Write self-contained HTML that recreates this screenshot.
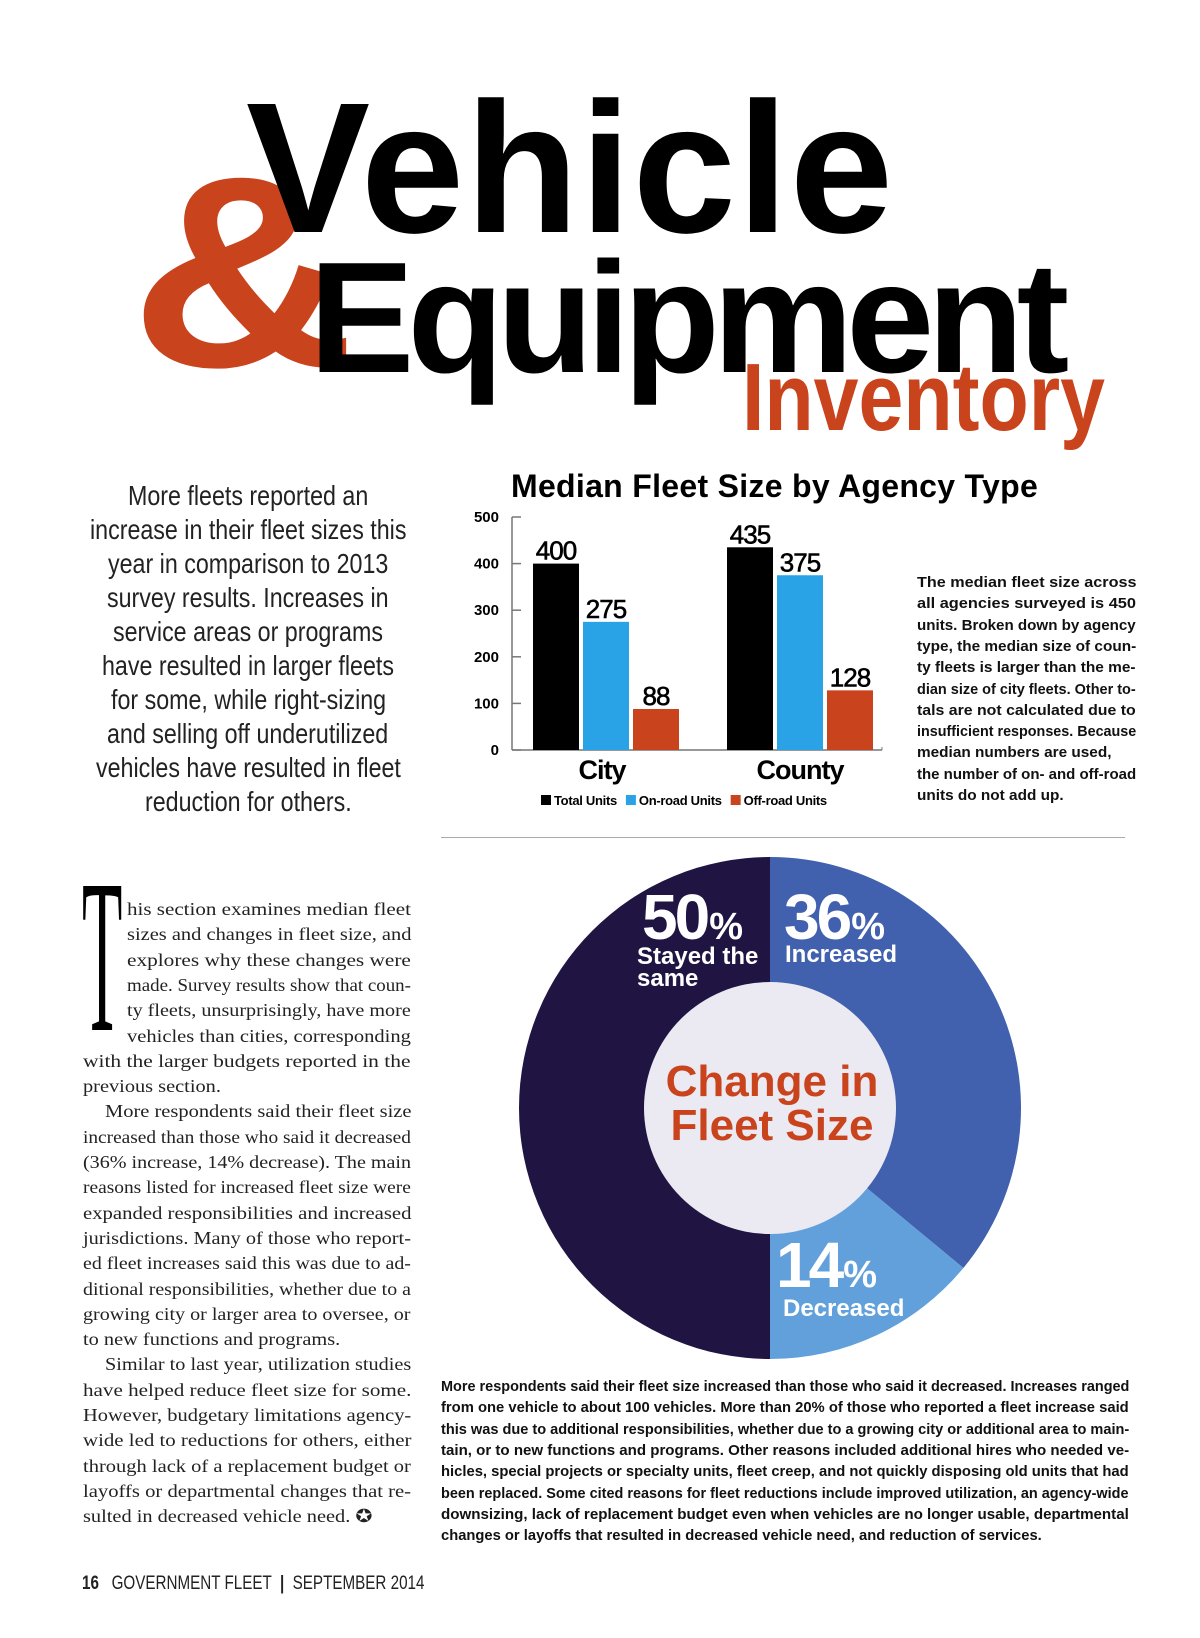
<!DOCTYPE html>
<html><head><meta charset="utf-8">
<style>
body{margin:0;width:1200px;height:1638px;background:#fff;position:relative;overflow:hidden;font-family:"Liberation Sans",sans-serif;}
.abs{position:absolute;white-space:nowrap;}
.ln{position:absolute;white-space:nowrap;transform-origin:0 0;}
</style></head><body>
<div class="abs" style="left:130px;top:136px;font-size:272px;font-weight:bold;color:#c9431d;line-height:1;transform:scaleX(1.15);transform-origin:0 0;">&amp;</div>
<div class="abs" style="left:246px;top:76px;font-size:186px;font-weight:bold;color:#000;line-height:1;letter-spacing:1px;">Vehicle</div>
<div class="abs" style="left:309px;top:239px;font-size:158px;font-weight:bold;color:#000;line-height:1;letter-spacing:-7px;">Equipment</div>
<div class="abs" style="left:742px;top:350px;font-size:96px;font-weight:bold;color:#c9431d;line-height:1;transform:scaleX(0.84);transform-origin:0 0;">Inventory</div>

<div id="intro"></div>
<div id="note"></div>
<div id="body"></div>
<div id="cap"></div>
<div class="abs" style="left:82px;top:846px;font-family:'Liberation Serif',serif;font-size:220px;line-height:1;transform:scaleX(0.3);transform-origin:0 0;">T</div>

<div style="position:absolute;left:441px;top:837px;width:684px;height:1px;background:#aaa;"></div>

<svg id="bar" width="1200" height="1638" style="position:absolute;left:0;top:0"></svg>
<svg id="donut" width="1200" height="1638" style="position:absolute;left:0;top:0"></svg>

<div class="abs" style="left:82px;top:1573px;font-size:19px;color:#222;transform:scaleX(0.8);transform-origin:0 0;"><b>16</b>&nbsp;&nbsp; GOVERNMENT FLEET &nbsp;<b>|</b>&nbsp; SEPTEMBER 2014</div>

<script>
const categories=["City","County"];
const seriesNames=["Total Units","On-road Units","Off-road Units"];
const totalUnits=[400,435];
const onroadUnits=[275,375];
const offroadUnits=[88,128];
const yTicks=[0,100,200,300,400,500];
const sliceLabels=["Increased","Decreased","Stayed the same"];
const sliceValues=[36,14,50];

const NS="http://www.w3.org/2000/svg";
function mk(svg,tag,attrs,txt){const e=document.createElementNS(NS,tag);for(const k in attrs)e.setAttribute(k,attrs[k]);if(txt!==undefined)e.textContent=txt;svg.appendChild(e);return e;}

// bar chart
const bar=document.getElementById('bar');
const y0=750,yTop=517,ax=512,axR=882;
const yS=v=>y0-(v/500)*(y0-yTop);
const groupX=[533,727],bw=46,gap=4;
const colors=["#000","#2aa3e6","#c9431d"];
const series=[totalUnits,onroadUnits,offroadUnits];
let t=mk(bar,'text',{x:511,y:497,'font-size':32,'font-weight':'bold','font-family':'Liberation Sans','letter-spacing':0.3},"Median Fleet Size by Agency Type");

mk(bar,'line',{x1:ax,y1:yTop,x2:ax,y2:y0,stroke:'#777','stroke-width':1.5});
mk(bar,'line',{x1:ax,y1:y0,x2:axR,y2:y0,stroke:'#777','stroke-width':1.5});
mk(bar,'line',{x1:axR,y1:y0,x2:axR,y2:y0-3,stroke:'#777','stroke-width':1});
yTicks.forEach(v=>{
  mk(bar,'line',{x1:ax,y1:yS(v),x2:ax+9,y2:yS(v),stroke:'#777','stroke-width':1.5});
  const e=mk(bar,'text',{x:499,y:yS(v)+5,'text-anchor':'end','font-size':15,'font-weight':'bold'},String(v));
  
});
categories.forEach((c,i)=>{
  series.forEach((s,j)=>{
    const x=groupX[i]+j*(bw+gap);
    const r=mk(bar,'rect',{x:x,y:yS(s[i]),width:bw,height:y0-yS(s[i]),fill:colors[j]});
    
    const l=mk(bar,'text',{x:x+bw/2,y:yS(s[i])-4,'text-anchor':'middle','font-size':26,'letter-spacing':-1,stroke:'#000','stroke-width':0.6},String(s[i]));
    
  });
  const cl=mk(bar,'text',{x:groupX[i]+bw*1.5+gap+(i?0:-4),y:779,'text-anchor':'middle','font-size':27,'font-weight':'bold','letter-spacing':-1},c);
  
});
let lx=541;
seriesNames.forEach((n,j)=>{
  const r=mk(bar,'rect',{x:lx,y:795,width:10,height:10,fill:colors[j]});
  
  const tx=mk(bar,'text',{x:lx+13,y:805,'font-size':13,'font-weight':'bold','letter-spacing':-0.3},n);
  
  lx+=13+tx.getComputedTextLength()+9;
});

// donut
const dn=document.getElementById('donut');
const cx=770,cy=1108,R=251,Ri=126;
const dcol=["#4160ad","#62a0dc","#201443"];
const total=sliceValues.reduce((a,b)=>a+b,0);
let a0=0;
sliceValues.forEach((v,i)=>{
  const a1=a0+v/total*2*Math.PI;
  const p=(a)=>[cx+R*Math.sin(a),cy-R*Math.cos(a)];
  const [x0,yy0]=p(a0),[x1,yy1]=p(a1);
  const large=(a1-a0)>Math.PI?1:0;
  const s=mk(dn,'path',{d:`M${cx},${cy} L${x0},${yy0} A${R},${R} 0 ${large} 1 ${x1},${yy1} Z`,fill:dcol[i]});
  
  a0=a1;
});
const ic=mk(dn,'circle',{cx:cx,cy:cy,r:Ri,fill:'#ebe9f1'});

function pct(x,y,v,name){
  const e=mk(dn,'text',{x:x,y:y,fill:'#fff','font-weight':'bold','font-size':64,'letter-spacing':-3},'');
  
  const a=document.createElementNS(NS,'tspan');a.textContent=v;e.appendChild(a);
  const b=document.createElementNS(NS,'tspan');b.setAttribute('font-size','38');b.setAttribute('dx','2');b.textContent='%';e.appendChild(b);
}
pct(642,939,String(sliceValues[2]),'pct-stayed');
pct(784,939,String(sliceValues[0]),'pct-increased');
pct(776,1287,String(sliceValues[1]),'pct-decreased');
function lbl(x,y,s,name){const e=mk(dn,'text',{x:x,y:y,fill:'#fff','font-weight':'bold','font-size':24},s);}
lbl(637,964,"Stayed the",'label-stayed');
lbl(637,986,"same",'label-stayed-2');
lbl(785,962,"Increased",'label-increased');
lbl(783,1316,"Decreased",'label-decreased');
let c1=mk(dn,'text',{x:772,y:1096,'text-anchor':'middle',fill:'#c9431d','font-weight':'bold','font-size':44},"Change in");

let c2=mk(dn,'text',{x:772,y:1140,'text-anchor':'middle',fill:'#c9431d','font-weight':'bold','font-size':44},"Fleet Size");


// text blocks
function block(id,lines,opt){
  const host=document.getElementById(id);
  const pending=[];let sum=0,n=0;
  lines.forEach((L,i)=>{
    const txt=typeof L==='string'?L:L.t;
    const d=document.createElement('div');d.className='ln';d.textContent=txt;
    d.style.fontFamily=opt.font;d.style.fontSize=opt.size+'px';d.style.fontWeight=opt.weight||'normal';
    d.style.color=opt.color||'#111';
    d.style.top=(opt.y+i*opt.lh)+'px';
    host.appendChild(d);
    const ind=(L.ind||0);
    const w=d.scrollWidth;
    if(opt.center){const s=opt.scale;d.style.left=(opt.cx-w*s/2)+'px';d.style.transform=`scaleX(${s})`;}
    else if(L.last){d.style.left=(opt.x+ind)+'px';pending.push(d);}
    else{const s=(opt.w-ind)/w;sum+=s;n++;d.style.left=(opt.x+ind)+'px';d.style.transform=`scaleX(${s})`;}
  });
  const avg=n?sum/n:1;
  pending.forEach(d=>d.style.transform=`scaleX(${avg})`);
}
block('intro',["More fleets reported an","increase in their fleet sizes this","year in comparison to 2013","survey results. Increases in","service areas or programs","have resulted in larger fleets","for some, while right-sizing","and selling off underutilized","vehicles have resulted in fleet","reduction for others."],
 {font:'"Liberation Sans",sans-serif',size:28,lh:34,y:480,center:true,cx:248,scale:0.83,color:'#222'});
block('note',["The median fleet size across","all agencies surveyed is 450","units. Broken down by agency","type, the median size of coun-","ty fleets is larger than the me-","dian size of city fleets. Other to-","tals are not calculated due to","insufficient responses. Because",{t:"median numbers are used,",last:1},"the number of on- and off-road",{t:"units do not add up.",last:1}],
 {font:'"Liberation Sans",sans-serif',size:15,weight:'bold',lh:21.3,y:574,x:917,w:219});
const I=44,P=22;
block('body',[{t:"his section examines median fleet",ind:I},{t:"sizes and changes in fleet size, and",ind:I},{t:"explores why these changes were",ind:I},{t:"made. Survey results show that coun-",ind:I},{t:"ty fleets, unsurprisingly, have more",ind:I},{t:"vehicles than cities, corresponding",ind:I},"with the larger budgets reported in the",{t:"previous section.",last:1},
 {t:"More respondents said their fleet size",ind:P},"increased than those who said it decreased","(36% increase, 14% decrease). The main","reasons listed for increased fleet size were","expanded responsibilities and increased","jurisdictions. Many of those who report-","ed fleet increases said this was due to ad-","ditional responsibilities, whether due to a","growing city or larger area to oversee, or",{t:"to new functions and programs.",last:1},
 {t:"Similar to last year, utilization studies",ind:P},"have helped reduce fleet size for some.","However, budgetary limitations agency-","wide led to reductions for others, either","through lack of a replacement budget or","layoffs or departmental changes that re-",{t:"sulted in decreased vehicle need. \u272A",last:1}],
 {font:'"Liberation Serif",serif',size:18,lh:25.3,y:899,x:83,w:328,color:'#222'});
block('cap',["More respondents said their fleet size increased than those who said it decreased. Increases ranged","from one vehicle to about 100 vehicles. More than 20% of those who reported a fleet increase said","this was due to additional responsibilities, whether due to a growing city or additional area to main-","tain, or to new functions and programs. Other reasons included additional hires who needed ve-","hicles, special projects or specialty units, fleet creep, and not quickly disposing old units that had","been replaced. Some cited reasons for fleet reductions include improved utilization, an agency-wide","downsizing, lack of replacement budget even when vehicles are no longer usable, departmental",{t:"changes or layoffs that resulted in decreased vehicle need, and reduction of services.",last:1}],
 {font:'"Liberation Sans",sans-serif',size:15,weight:'bold',lh:21.3,y:1378,x:441,w:688});
</script>
</body></html>
